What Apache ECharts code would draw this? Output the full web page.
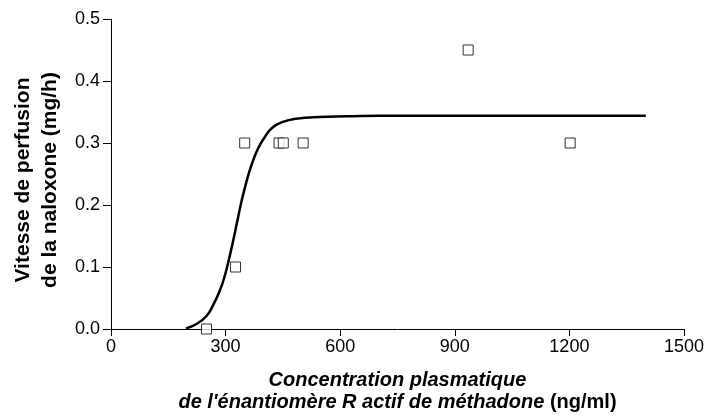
<!DOCTYPE html>
<html>
<head>
<meta charset="utf-8">
<script src="https://cdn.jsdelivr.net/npm/echarts@6/dist/echarts.min.js"></script>
<style>
  html, body { margin: 0; padding: 0; background: #fff; }
  #container { width: 707px; height: 417px; }
</style>
</head>
<body>
<div id="container"></div>
<script>
var dom = document.getElementById("container");
var myChart = echarts.init(dom);

// observed points (ng/ml, mg/h)
var obsConc = [250, 326, 350, 440, 451, 503, 935, 1202];
var obsRate = [0.0, 0.1, 0.3, 0.3, 0.3, 0.3, 0.45, 0.3];

// fitted curve
var fitConc = [196, 224, 250, 267, 285, 298, 309, 319, 330, 341, 354, 367, 384, 402, 423, 450, 484, 545, 620, 700, 900, 1100, 1400];
var fitRate = [0.001, 0.008, 0.021, 0.038, 0.062, 0.086, 0.113, 0.140, 0.172, 0.204, 0.236, 0.263, 0.290, 0.309, 0.325, 0.334, 0.339, 0.342, 0.343, 0.344, 0.344, 0.344, 0.344];

var xTicks = [0, 300, 600, 900, 1200, 1500];
var yTicks = [0, 0.1, 0.2, 0.3, 0.4, 0.5];

var font = 'Liberation Sans, Arial, sans-serif';

function pairs(xs, ys) {
  return xs.map(function (x, i) { return [x, ys[i]]; });
}

var option = {
  animation: false,
  grid: { left: 111, right: 20, top: 19, bottom: 87 },
  xAxis: {
    type: 'value',
    min: xTicks[0],
    max: xTicks[xTicks.length - 1],
    interval: 300,
    splitLine: { show: false },
    axisLine: { onZero: false, lineStyle: { color: '#000', width: 1 } },
    axisTick: { length: 7, lineStyle: { color: '#000' } },
    axisLabel: {
      color: '#000', fontSize: 18, fontFamily: font, margin: 9,
      formatter: function (v) { return String(v); }
    },
    name: '{b|Concentration plasmatique}\n{b|de l\'énantiomère R actif de méthadone}{n| (ng/ml)}',
    nameLocation: 'middle',
    nameGap: 40,
    nameTextStyle: {
      rich: {
        b: { fontSize: 20, fontWeight: 'bold', fontStyle: 'italic', fontFamily: font, color: '#000', lineHeight: 22 },
        n: { fontSize: 20, fontWeight: 'bold', fontFamily: font, color: '#000', lineHeight: 22 }
      }
    }
  },
  yAxis: {
    type: 'value',
    min: yTicks[0],
    max: yTicks[yTicks.length - 1],
    interval: 0.1,
    splitLine: { show: false },
    axisLine: { show: true, lineStyle: { color: '#000', width: 1 } },
    axisTick: { show: true, length: 8, lineStyle: { color: '#000' } },
    axisLabel: {
      color: '#000', fontSize: 18, fontFamily: font, margin: 11,
      formatter: function (v) { return v.toFixed(1); }
    },
    name: 'Vitesse de perfusion\nde la naloxone (mg/h)',
    nameLocation: 'middle',
    nameGap: 47,
    nameTextStyle: {
      fontSize: 21, fontWeight: 'bold', fontFamily: font, color: '#000', lineHeight: 27,
      padding: [0, 12, 0, 0]
    }
  },
  series: [{
    type: 'line',
    data: pairs(fitConc, fitRate),
    smooth: 0.5,
    showSymbol: false,
    lineStyle: { color: '#000', width: 2.5 },
    z: 2
  }, {
    type: 'scatter',
    data: pairs(obsConc, obsRate),
    symbol: 'rect',
    symbolSize: 10,
    itemStyle: { color: '#fff', borderColor: '#000', borderWidth: 1 },
    z: 3
  }]
};

myChart.setOption(option, true);
</script>
</body>
</html>
